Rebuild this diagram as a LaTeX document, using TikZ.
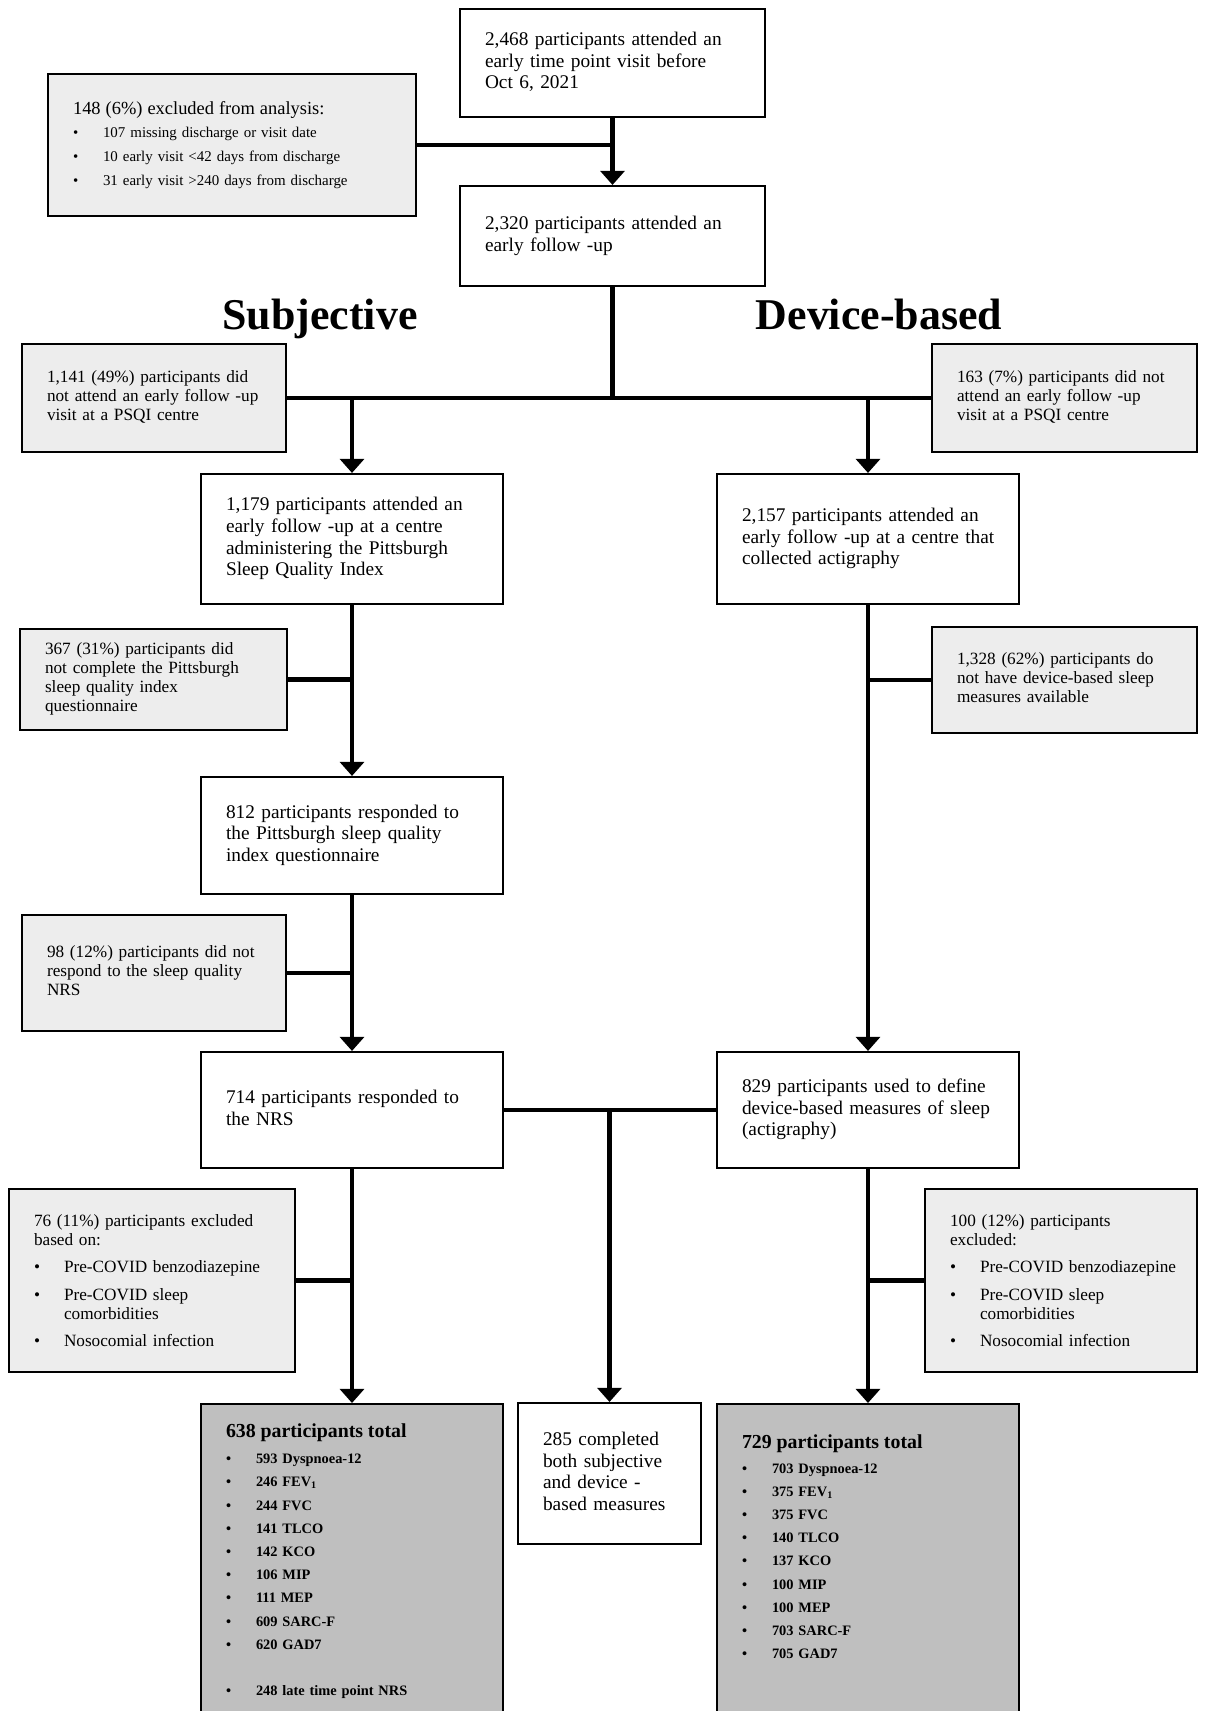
\documentclass[tikz,border=0pt]{standalone}
\usepackage{fontspec}
\setmainfont{Liberation Serif}
\usetikzlibrary{arrows.meta}
\definecolor{exclGrey}{RGB}{237,237,237}
\definecolor{totalGrey}{RGB}{191,191,191}
\newcommand{\itm}[1]{\makebox[0.6cm][l]{\textbullet}#1}
\newcommand{\itmgap}{\hspace*{0.6cm}}
\newcommand{\boxlines}[1]{\begin{tabular}{@{}l@{}}#1\end{tabular}}

\begin{document}
\begin{tikzpicture}[x=0.02cm, y=-0.02cm,
    flow/.style={draw, line width=1.2pt, fill=white, align=left, inner xsep=0.5cm, inner ysep=0pt,
      text width=5.04cm, font=\fontsize{11}{12.3}\selectfont},
    excl/.style={flow, fill=exclGrey, text width=#1, font=\fontsize{9.8}{10.8}\selectfont},
    total/.style={flow, fill=totalGrey, anchor=north, inner ysep=#1, text depth=7cm,
      font=\bfseries\fontsize{8.2}{13.2}\selectfont},
    heading/.style={anchor=base, font=\bfseries\fontsize{25}{30}\selectfont},
    link/.style={line width=2.8pt},
    flowarrow/.style={link, -{Triangle[width=13.6pt, length=8pt]}}]
  \useasboundingbox (0,0) rectangle (1206,1711);

  \node[flow, text width=5.1cm, minimum height=2.16cm, font=\fontsize{11}{12.1}\selectfont] (visit) at (612.5,63)
    {\boxlines{2,468 participants attended an\\early time point visit before\\Oct 6, 2021}};
  \node[flow, text width=5.1cm, minimum height=2cm] (early) at (612.5,236)
    {\boxlines{2,320 participants attended an\\early follow -up}};
  \node[excl=6.36cm, minimum height=2.84cm, font=\fontsize{8.5}{13.6}\selectfont] (exclAll) at (232,145)
    {\boxlines{{\fontsize{10.5}{13.6}\selectfont 148 (6\%) excluded from analysis:}\\[-0.6pt]
     \itm{107 missing discharge or visit date}\\
     \itm{10 early visit <42 days from discharge}\\
     \itm{31 early visit >240 days from discharge}}};

  \node[heading] (subj) at (320,329) {Subjective};
  \node[heading] (dev) at (879,329) {Device-based};

  % subjective branch
  \node[excl=4.28cm, minimum height=2.16cm] (noPsqi) at (154,398)
    {\boxlines{1,141 (49\%) participants did\\not attend an early follow -up\\visit at a PSQI centre}};
  \node[flow, minimum height=2.6cm] (psqi) at (352,539)
    {\boxlines{1,179 participants attended an\\early follow -up at a centre\\administering the Pittsburgh\\Sleep Quality Index}};
  \node[excl=4.34cm, minimum height=2.02cm] (noQuest) at (153.5,679.5)
    {\boxlines{367 (31\%) participants did\\not complete the Pittsburgh\\sleep quality index\\questionnaire}};
  \node[flow, minimum height=2.34cm] (quest) at (352,835.5)
    {\boxlines{812 participants responded to\\the Pittsburgh sleep quality\\index questionnaire}};
  \node[excl=4.28cm, minimum height=2.32cm] (noNrs) at (154,973)
    {\boxlines{98 (12\%) participants did not\\respond to the sleep quality\\NRS}};
  \node[flow, minimum height=2.32cm] (nrs) at (352,1110)
    {\boxlines{714 participants responded to\\the NRS}};
  \node[excl=4.72cm, minimum height=3.66cm] (exclSubj) at (152,1280.5)
    {\boxlines{76 (11\%) participants excluded\\based on:\\[4.8pt]
     \itm{Pre-COVID benzodiazepine}\\[4.8pt]
     \itm{Pre-COVID sleep}\\ \itmgap comorbidities\\[4.8pt]
     \itm{Nosocomial infection}\\[-2.4pt]}};
  \node[total=0.34cm] (totSubj) at (352,1403)
    {\boxlines{{\fontsize{11.3}{13.2}\selectfont 638 participants total}\\[1.8pt]
     \itm{593 Dyspnoea-12}\\ \itm{246 FEV\textsubscript{1}}\\ \itm{244 FVC}\\
     \itm{141 TLCO}\\ \itm{142 KCO}\\ \itm{106 MIP}\\ \itm{111 MEP}\\
     \itm{609 SARC-F}\\ \itm{620 GAD7}\\[13.2pt]
     \itm{248 late time point NRS}}};

  % device-based branch
  \node[excl=4.3cm, minimum height=2.16cm] (noActi) at (1064.5,398)
    {\boxlines{163 (7\%) participants did not\\attend an early follow -up\\visit at a PSQI centre}};
  \node[flow, minimum height=2.6cm] (acti) at (868,539)
    {\boxlines{2,157 participants attended an\\early follow -up at a centre that\\collected actigraphy}};
  \node[excl=4.3cm, minimum height=2.12cm] (noDevice) at (1064.5,680)
    {\boxlines{1,328 (62\%) participants do\\not have device-based sleep\\measures available}};
  \node[flow, minimum height=2.32cm] (device) at (868,1110)
    {\boxlines{829 participants used to define\\device-based measures of sleep\\(actigraphy)}};
  \node[excl=4.44cm, minimum height=3.66cm] (exclDev) at (1061,1280.5)
    {\boxlines{100 (12\%) participants\\excluded:\\[4.8pt]
     \itm{Pre-COVID benzodiazepine}\\[4.8pt]
     \itm{Pre-COVID sleep}\\ \itmgap comorbidities\\[4.8pt]
     \itm{Nosocomial infection}\\[-2.4pt]}};
  \node[total=0.57cm] (totDev) at (868,1403)
    {\boxlines{{\fontsize{11.3}{13.2}\selectfont 729 participants total}\\[0.7pt]
     \itm{703 Dyspnoea-12}\\ \itm{375 FEV\textsubscript{1}}\\ \itm{375 FVC}\\
     \itm{140 TLCO}\\ \itm{137 KCO}\\ \itm{100 MIP}\\ \itm{100 MEP}\\
     \itm{703 SARC-F}\\ \itm{705 GAD7}}};

  \node[flow, text width=2.66cm, minimum height=2.82cm] (both) at (609.5,1473.5)
    {\boxlines{285 completed\\both subjective\\and device -\\based measures}};

  % connectors
  \draw[flowarrow] (visit.south) -- (early.north);
  \draw[link] (exclAll.east) -- (exclAll.east -| visit.south);
  \draw[link] (early.south) -- (early.south |- noPsqi.east);
  \draw[link] (noPsqi.east) -- (noActi.west);
  \draw[flowarrow] (psqi.north |- noPsqi.east) -- (psqi.north);
  \draw[flowarrow] (acti.north |- noActi.west) -- (acti.north);
  \draw[flowarrow] (psqi.south) -- (quest.north);
  \draw[link] (noQuest.east) -- (noQuest.east -| psqi.south);
  \draw[flowarrow] (quest.south) -- (nrs.north);
  \draw[link] (noNrs.east) -- (noNrs.east -| quest.south);
  \draw[flowarrow] (nrs.south) -- (totSubj.north);
  \draw[link] (exclSubj.east) -- (exclSubj.east -| nrs.south);
  \draw[flowarrow] (acti.south) -- (device.north);
  \draw[link] (noDevice.west) -- (noDevice.west -| acti.south);
  \draw[flowarrow] (device.south) -- (totDev.north);
  \draw[link] (exclDev.west) -- (exclDev.west -| device.south);
  \draw[link] (nrs.east) -- (device.west);
  \draw[flowarrow] (both.north |- nrs.east) -- (both.north);
\end{tikzpicture}
\end{document}
